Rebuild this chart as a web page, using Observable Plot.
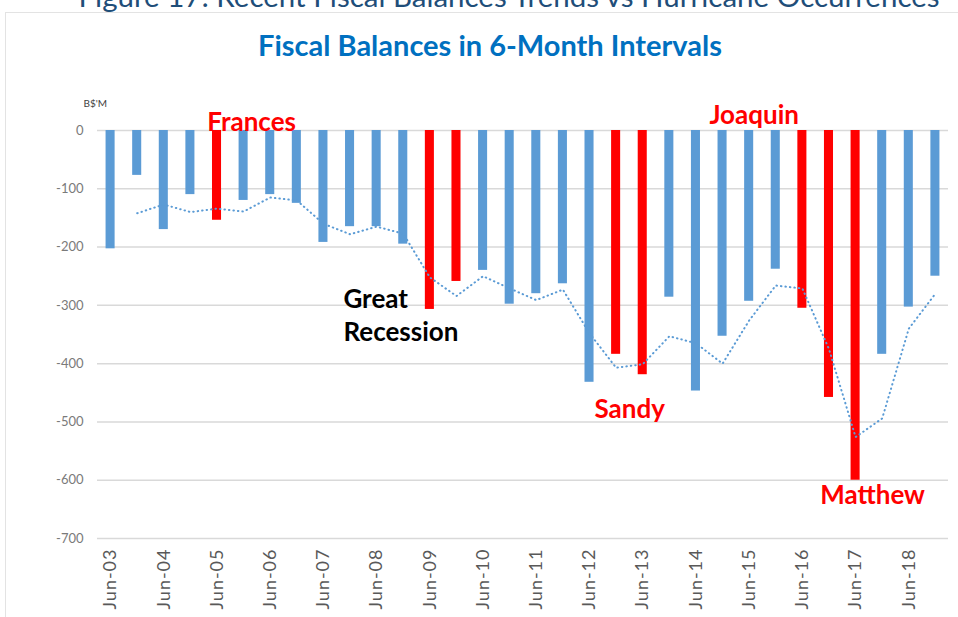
<!DOCTYPE html>
<html>
<head>
<meta charset="utf-8">
<script src="https://cdn.jsdelivr.net/npm/d3@7"></script>
<script src="https://cdn.jsdelivr.net/npm/@observablehq/plot@0.6"></script>
<style>
  html, body { margin: 0; padding: 0; background: #fff; overflow: hidden; }
  #page { position: relative; width: 958px; height: 617px; overflow: hidden; font-family: Lato, "Open Sans", sans-serif; }
  #frame { position: absolute; left: 5px; top: 12px; width: 1000px; height: 700px; border: 1.5px solid #e3e3e3; box-sizing: border-box; }
  #fig { position: absolute; left: 30px; top: -19px; width: 958px; text-align: center; font-size: 29.5px; line-height: 29px; color: #1F4E79; white-space: nowrap; }
  #title { position: absolute; left: 0; top: 27px; width: 980px; text-align: center; font-size: 29px; font-weight: bold; color: #0070C0; white-space: nowrap; }
  #chart { position: absolute; left: 0; top: 0; }
  #chart svg g[aria-label="x-axis tick label"] text { letter-spacing: 1px; }
</style>
</head>
<body>
<div id="page">
  <div id="frame"></div>
  <div id="chart"></div>
  <div id="fig">Figure 17: Recent Fiscal Balances Trends vs Hurricane Occurrences</div>
  <div id="title">Fiscal Balances in 6-Month Intervals</div>
</div>
<script>
const periods = ["Jun-03","Dec-03","Jun-04","Dec-04","Jun-05","Dec-05","Jun-06","Dec-06",
  "Jun-07","Dec-07","Jun-08","Dec-08","Jun-09","Dec-09","Jun-10","Dec-10",
  "Jun-11","Dec-11","Jun-12","Dec-12","Jun-13","Dec-13","Jun-14","Dec-14",
  "Jun-15","Dec-15","Jun-16","Dec-16","Jun-17","Dec-17","Jun-18","Dec-18"];
const balances = [-203,-77,-170,-110,-154,-120,-110,-125,
  -192,-165,-165,-195,-307,-259,-240,-298,
  -280,-263,-432,-384,-419,-286,-447,-353,
  -293,-238,-305,-458,-600,-384,-303,-250];
const trend = [null,-142,-127,-140,-134,-139,-115,-120,
  -160,-178,-165,-177,-252,-284,-250,-271,
  -291,-273,-348,-407,-401,-353,-365,-400,
  -326,-266,-271,-375,-526,-494,-340,-280];
const hurricanePeriods = ["Jun-05","Jun-09","Dec-09","Dec-12","Jun-13","Jun-16","Dec-16","Jun-17"];
const tickLabels = ["Jun-03","Jun-04","Jun-05","Jun-06","Jun-07","Jun-08","Jun-09","Jun-10",
  "Jun-11","Jun-12","Jun-13","Jun-14","Jun-15","Jun-16","Jun-17","Jun-18"];
const yTicks = [0,-100,-200,-300,-400,-500,-600,-700];
const annotations = [
  {text: "Frances", period: "Dec-05", value: 0, color: "#FF0000"},
  {text: "Joaquin", period: "Jun-15", value: 0, color: "#FF0000"},
  {text: "Great\nRecession", period: "Jun-07", value: -315, color: "#000000"},
  {text: "Sandy", period: "Jun-13", value: -480, color: "#FF0000"},
  {text: "Matthew", period: "Jun-17", value: -626, color: "#FF0000"}
];
const annotOffsets = [[8,-10],[5,-17],[20,0],[-13,-3],[17,-2]];

const data = periods.map((p, i) => ({period: p, value: balances[i], trend: trend[i], hurricane: hurricanePeriods.includes(p)}));
const ann = annotations.map((a, i) => ({...a, dx: annotOffsets[i][0], dy: annotOffsets[i][1]}));

const plot = Plot.plot({
  width: 958,
  height: 617,
  marginTop: 130,
  marginBottom: 79,
  marginLeft: 88,
  marginRight: 1,
  style: {background: "transparent", fontFamily: "Lato, 'Open Sans', sans-serif"},
  x: {domain: periods, padding: 0.66, round: false, label: null},
  y: {domain: [-700, 0], label: null},
  marks: [
    Plot.ruleY(yTicks, {stroke: "#d9d9d9", strokeWidth: 1.5, insetLeft: 9, insetRight: 9}),
    Plot.barY(data, {x: "period", y: "value", fill: d => d.hurricane ? "#FF0000" : "#5B9BD5"}),
    Plot.line(data.filter(d => d.trend != null), {x: "period", y: "trend", stroke: "#5B9BD5", strokeWidth: 2, strokeDasharray: "0.5 4", strokeLinecap: "round", curve: "linear"}),
    Plot.axisY({ticks: yTicks, tickSize: 0, tickPadding: 5, tickFormat: d => String(d), fontSize: 13, fill: "#7a7a7a", label: null}),
    Plot.axisX({ticks: tickLabels, tickSize: 0, tickPadding: 10, tickRotate: -90, fontSize: 18, fill: "#595959", label: null}),
    Plot.text(["B$'M"], {frameAnchor: "top-left", dx: -5, dy: -31, fontSize: 10, fill: "#404040", textAnchor: "start"}),
    ...ann.map(a => Plot.text([a], {x: "period", y: "value", text: "text", fill: a.color, dx: a.dx, dy: a.dy,
      fontSize: 26, fontWeight: "bold", lineHeight: 1.27,
      textAnchor: a.text.startsWith("Great") ? "start" : "middle", lineAnchor: "middle"}))
  ]
});
document.getElementById("chart").appendChild(plot);
</script>
</body>
</html>
